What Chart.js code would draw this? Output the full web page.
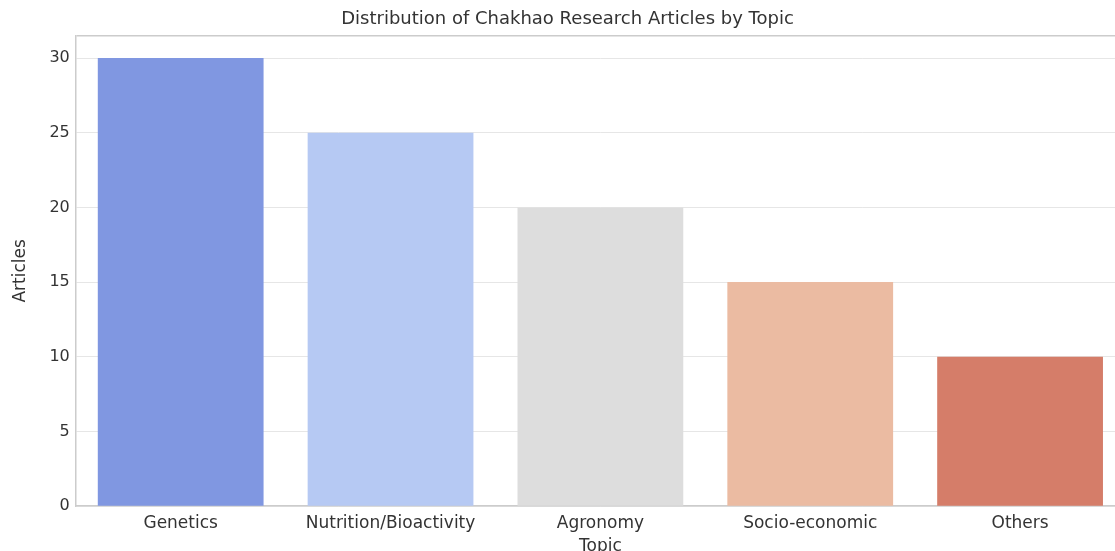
<!DOCTYPE html>
<html>
<head>
<meta charset="utf-8">
<script src="https://cdn.jsdelivr.net/npm/chart.js@4"></script>
<style>
  html, body { margin: 0; padding: 0; background: #fff; overflow: hidden; }
  #wrap { position: relative; width: 1200px; height: 557px; }
</style>
</head>
<body>
<div id="wrap"><canvas id="topicChart"></canvas></div>
<script>
// Chart data
var topics = ["Genetics", "Nutrition/Bioactivity", "Agronomy", "Socio-economic", "Others"];
var articles = [30, 25, 20, 15, 10];
var barColors = ["#8097e1", "#b6c9f3", "#dddddd", "#ebbba2", "#d57d69"];
var yTicks = [0, 5, 10, 15, 20, 25, 30];

var ctx = document.getElementById("topicChart");

var chartOptions = {
    responsive: true,
    maintainAspectRatio: false,
    animation: false,
    layout: { padding: { left: 10, right: 75, top: 0, bottom: 0 } },
    plugins: {
        legend: { display: false },
        tooltip: { enabled: false },
        title: {
            display: true,
            text: "Distribution of Chakhao Research Articles by Topic",
            color: "#333",
            font: { family: "DejaVu Sans", size: 18, weight: "normal" },
            padding: { top: 9, bottom: 5 }
        }
    },
    scales: {
        x: {
            grid: { display: false, drawTicks: false },
            border: { display: true, color: "#cccccc", width: 1.5 },
            ticks: { color: "#333", font: { family: "DejaVu Sans", size: 17 }, padding: 7 },
            title: {
                display: true, text: "Topic", color: "#333",
                font: { family: "DejaVu Sans", size: 17 }, padding: { top: -4, bottom: 0 }
            }
        },
        y: {
            min: 0,
            max: 31.5,
            afterBuildTicks: function(scale) {
                scale.ticks = yTicks.concat([31.5]).map(function(v) { return { value: v }; });
            },
            grid: {
                drawTicks: false,
                color: function(c) { return c.tick && c.tick.value === 31.5 ? "#cccccc" : "#e6e6e6"; },
                lineWidth: function(c) { return c.tick && c.tick.value === 31.5 ? 1.5 : 1; }
            },
            border: { display: true, color: "#cccccc", width: 1.5 },
            ticks: {
                color: "#333", font: { family: "DejaVu Sans", size: 16 }, padding: 6,
                callback: function(v) { return v === 31.5 ? "" : v; }
            },
            title: {
                display: true, text: "Articles", color: "#333",
                font: { family: "DejaVu Sans", size: 17 }, padding: { top: 0, bottom: 13 }
            }
        }
    }
};

var chartData = {
    labels: topics,
    datasets: [{
        label: "Articles",
        data: articles,
        backgroundColor: barColors,
        categoryPercentage: 1.0,
        barPercentage: 0.79
    }]
};

var topicChart = new Chart(ctx, { type: "bar", data: chartData, options: chartOptions });
</script>
</body>
</html>
